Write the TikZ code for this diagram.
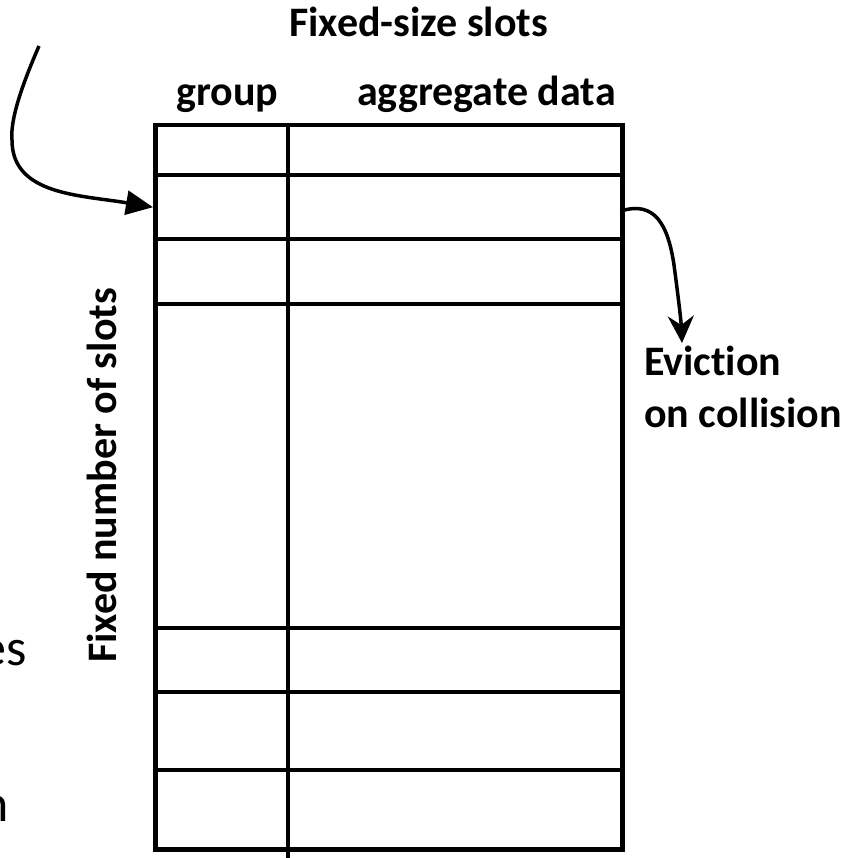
\documentclass[tikz,border=0pt]{standalone}
\usepackage{fontspec}
\setmainfont{Carlito}[Ligatures={NoCommon,NoRare,NoContextual,NoHistoric}]
\usetikzlibrary{arrows.meta}
\begin{document}
\begin{tikzpicture}[x=1pt,y=-1pt,
  grid/.style={line width=4.5pt},
  flow/.style={line width=3.5pt},
  lbl/.style={font=\fontsize{42}{50}\selectfont\bfseries, inner sep=0pt},
  side/.style={font=\fontsize{52}{62}\selectfont, inner sep=0pt}]
\useasboundingbox (0,0) rectangle (853,858);

% slot table: outline, row separators and the group / data divider
\node[draw, grid, minimum width=467pt, minimum height=724pt,
      anchor=north west, inner sep=0pt] (tbl) at (153,123) {};
\foreach \yy in {175,239,304,628,692,770}
  \draw[grid] (153,\yy) -- (620,\yy);
\draw[grid] (288,123) -- (288,858);

% the slot that receives the incoming row
\node[minimum width=467pt, minimum height=64pt, anchor=north west,
      inner sep=0pt] (slot) at (153,175) {};

% incoming arrow
\coordinate (src) at (39,46);
\draw[flow, -{Triangle[length=27pt,width=24pt]}]
  (src) .. controls (22,85) and (10,120) .. (12,140)
        .. controls (12,195) and (80,195) .. (slot.west);

% eviction arrow
\coordinate (evict) at (682,343);
\draw[flow, -{Stealth[length=27pt,width=26pt,inset=9pt]}]
  ([yshift=-4pt]slot.east) .. controls (655,200) and (668,225) .. (674,265)
        .. controls (678,295) and (681,320) .. (evict);

% labels (the kern keeps c and t as separate glyphs)
\node[lbl, anchor=base west] (title) at (289,37) {Fixed-size slots};
\node[lbl, anchor=base west] (grp) at (176,106) {group};
\node[lbl, anchor=base west] (agg) at (357,106) {aggregate data};
\node[lbl, rotate=90, anchor=base west] (count) at (116,663) {Fixed number of slots};
\node[lbl, anchor=base west] (ev1) at (644,375) {Evic\kern0pt{}tion};
\node[lbl, anchor=base west] (ev2) at (644,427) {on collision};

% text running in from the left margin
\node[side, anchor=base east] (frag1) at (27,665) {es};
\node[side, anchor=base east] (frag2) at (9,821) {n};
\end{tikzpicture}
\end{document}
